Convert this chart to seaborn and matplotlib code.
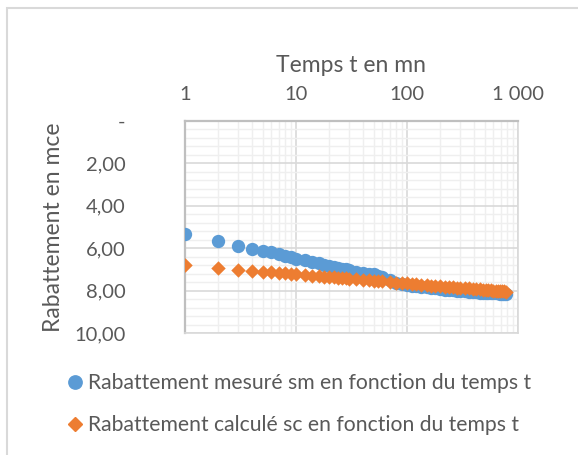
import matplotlib
matplotlib.use("Agg")
import matplotlib.pyplot as plt
import matplotlib.ticker as mticker
from matplotlib.lines import Line2D
from matplotlib.patches import Rectangle
import seaborn as sns
import pandas as pd

# ---- data ----
temps = [1, 2, 3, 4, 5, 6, 7, 8, 9, 10, 12, 14, 16, 18, 20, 22, 24, 26, 28, 30,
         35, 40, 45, 50, 55, 60, 70, 80, 90, 100, 110, 120, 135, 150, 165, 180,
         200, 220, 240, 260, 280, 300, 330, 360, 390, 420, 450, 480, 510, 540,
         570, 600, 630, 660, 690, 720, 750, 780]
s_mesure = [5.33, 5.66, 5.90, 6.04, 6.12, 6.20, 6.27, 6.35, 6.42, 6.50, 6.58, 6.65,
            6.72, 6.78, 6.84, 6.88, 6.92, 6.96, 7.00, 7.04, 7.10, 7.16, 7.20, 7.23,
            7.30, 7.38, 7.52, 7.62, 7.68, 7.72, 7.76, 7.79, 7.82, 7.85, 7.88, 7.90,
            7.93, 7.95, 7.97, 7.99, 8.01, 8.03, 8.04, 8.05, 8.06, 8.08, 8.09, 8.10,
            8.10, 8.11, 8.12, 8.12, 8.13, 8.13, 8.14, 8.14, 8.15, 8.15]
s_calcule = [6.80, 6.93, 7.01, 7.07, 7.11, 7.14, 7.17, 7.19, 7.21, 7.23, 7.26, 7.29,
             7.32, 7.34, 7.36, 7.38, 7.39, 7.41, 7.42, 7.43, 7.46, 7.49, 7.51, 7.53,
             7.55, 7.56, 7.59, 7.62, 7.64, 7.66, 7.68, 7.69, 7.72, 7.74, 7.76, 7.77,
             7.79, 7.81, 7.83, 7.84, 7.86, 7.87, 7.89, 7.90, 7.92, 7.93, 7.94, 7.96,
             7.97, 7.98, 7.99, 8.00, 8.01, 8.02, 8.02, 8.03, 8.04, 8.05]
serie_m = "Rabattement mesuré sm en fonction du temps t"
serie_c = "Rabattement calculé sc en fonction du temps t"
x_ticks = [1, 10, 100, 1000]
x_labels = ["1", "10", "100", "1 000"]
y_ticks = [0, 2, 4, 6, 8, 10]
y_labels = ["-", "2,00", "4,00", "6,00", "8,00", "10,00"]

df_m = pd.DataFrame({"t": temps, "s": s_mesure})
df_c = pd.DataFrame({"t": temps, "s": s_calcule})

BLUE = "#5B9BD5"
ORANGE = "#ED7D31"
TXT = "#595959"

sns.set_style("white")
plt.rcParams["font.family"] = ["Lato", "DejaVu Sans"]

fig = plt.figure(figsize=(5.78, 4.55), dpi=100)
ax = fig.add_axes([185 / 578, 1 - 333 / 455, (518 - 185) / 578, (333 - 121) / 455])

sns.scatterplot(data=df_m, x="t", y="s", color=BLUE, marker="o", s=92,
                linewidth=0, legend=False, ax=ax, zorder=3)
sns.scatterplot(data=df_c, x="t", y="s", color=ORANGE, marker="D", s=54,
                linewidth=0, legend=False, ax=ax, zorder=4)

ax.set_xscale("log")
ax.set_xlim(1, 1000)
ax.set_ylim(10, 0)
ax.xaxis.tick_top()
ax.xaxis.set_label_position("top")
ax.set_xticks(x_ticks)
ax.set_xticklabels(x_labels)
ax.xaxis.set_minor_locator(mticker.LogLocator(base=10, subs=range(2, 10)))
ax.xaxis.set_minor_formatter(mticker.NullFormatter())
ax.set_yticks(y_ticks)
ax.set_yticklabels(y_labels)
ax.yaxis.set_minor_locator(mticker.MultipleLocator(0.4))

ax.grid(which="major", color="#d9d9d9", linewidth=1.2, zorder=0)
ax.grid(which="minor", color="#efefef", linewidth=1.0, zorder=0)
ax.set_axisbelow(True)

ax.tick_params(which="both", length=0)
ax.tick_params(axis="x", which="major", labelsize=14.5, colors=TXT, pad=13)
ax.tick_params(axis="y", which="major", labelsize=14.5, colors=TXT, pad=43)

ax.set_xlabel("Temps t en mn", fontsize=16.5, color=TXT, labelpad=10)
ax.set_ylabel("Rabattement en mce", fontsize=16.5, color=TXT, labelpad=7)

for side in ["top", "left"]:
    ax.spines[side].set_color("#bfbfbf")
    ax.spines[side].set_linewidth(1.6)
for side in ["right", "bottom"]:
    ax.spines[side].set_color("#d9d9d9")
    ax.spines[side].set_linewidth(1.2)

handles = [
    Line2D([], [], marker="o", color=BLUE, linestyle="", markersize=9.6),
    Line2D([], [], marker="D", color=ORANGE, linestyle="", markersize=7.0),
]
fig.legend(handles, [serie_m, serie_c], loc="center left",
           bbox_to_anchor=(58 / 578, 1 - 404 / 455), frameon=False,
           fontsize=15.2, labelcolor=TXT, handlelength=0.6, handletextpad=0.3,
           labelspacing=1.05, borderpad=0)

fig.patches.append(Rectangle((7 / 578, -0.05), 1.2, 1 - 8 / 455 + 0.05,
                             transform=fig.transFigure, fill=False,
                             edgecolor="#d9d9d9", linewidth=1.5))

fig.savefig("out.png", dpi=100)
